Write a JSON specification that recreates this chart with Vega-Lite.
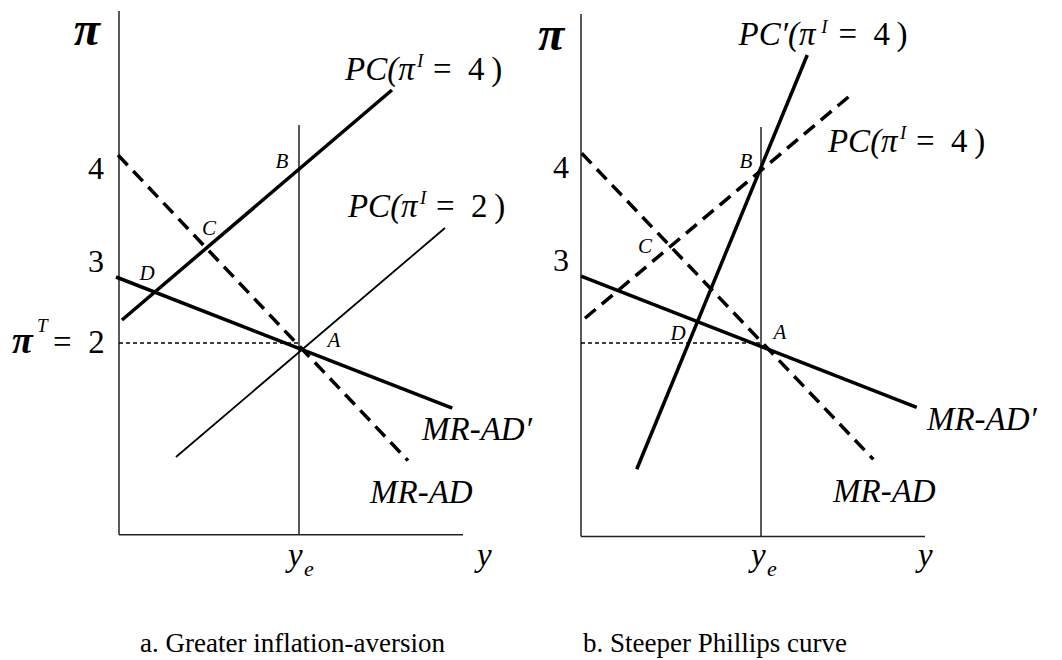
{
  "$schema": "https://vega.github.io/schema/vega-lite/v6.json",
  "padding": 0,
  "spacing": 0,
  "bounds": "flush",
  "background": "white",
  "config": {"view": {"stroke": null}},
  "resolve": {"scale": {"x": "independent", "y": "independent"}},
  "datasets": {
    "segs": [
      {"panel": "a", "kind": "axis", "x": -2.0, "y": -0.18, "x2": -2.0, "y2": 5.773},
      {"panel": "a", "kind": "axis", "x": -2.0, "y": -0.18, "x2": 1.822, "y2": -0.18},
      {"panel": "a", "kind": "axis", "x": 0, "y": -0.18, "x2": 0, "y2": 4.477},
      {"panel": "a", "kind": "dot", "x": -2.0, "y": 2.0, "x2": 0, "y2": 2.0},
      {"panel": "a", "kind": "thick", "x": -1.967, "y": 2.261, "x2": 1.033, "y2": 4.875},
      {"panel": "a", "kind": "thin", "x": -1.367, "y": 0.705, "x2": 1.622, "y2": 3.307},
      {"panel": "a", "kind": "dash", "x": -2.011, "y": 4.136, "x2": 1.211, "y2": 0.663},
      {"panel": "a", "kind": "thick", "x": -2.033, "y": 2.75, "x2": 1.703, "y2": 1.261},
      {"panel": "b", "kind": "axis", "x": -2.0, "y": -0.2, "x2": -2.0, "y2": 5.739},
      {"panel": "b", "kind": "axis", "x": -2.0, "y": -0.2, "x2": 1.822, "y2": -0.2},
      {"panel": "b", "kind": "axis", "x": 0, "y": -0.2, "x2": 0, "y2": 4.455},
      {"panel": "b", "kind": "dot", "x": -2.0, "y": 2.0, "x2": 0, "y2": 2.0},
      {"panel": "b", "kind": "thick", "x": -1.381, "y": 0.565, "x2": 0.514, "y2": 5.273},
      {"panel": "b", "kind": "dash", "x": -1.956, "y": 2.281, "x2": 1.033, "y2": 4.849},
      {"panel": "b", "kind": "dash", "x": -1.992, "y": 4.156, "x2": 1.248, "y2": 0.678},
      {"panel": "b", "kind": "thick", "x": -2.0, "y": 2.761, "x2": 1.73, "y2": 1.269}
    ],
    "texts": [
      {"panel": "a", "role": "greek", "x": -2.356, "y": 5.545, "label": "π"},
      {"panel": "a", "role": "tick", "x": -2.256, "y": 3.977, "label": "4"},
      {"panel": "a", "role": "tick", "x": -2.256, "y": 2.92, "label": "3"},
      {"panel": "a", "role": "pileft", "x": -3.19, "y": 1.886, "label": "π"},
      {"panel": "a", "role": "sup", "x": -2.911, "y": 2.125, "label": "T"},
      {"panel": "a", "role": "up", "x": -2.733, "y": 1.886, "label": "=\u20022"},
      {"panel": "a", "role": "pt", "x": -0.189, "y": 4.057, "label": "B"},
      {"panel": "a", "role": "pt", "x": -1.0, "y": 3.295, "label": "C"},
      {"panel": "a", "role": "pt", "x": -1.689, "y": 2.784, "label": "D"},
      {"panel": "a", "role": "pt", "x": 0.389, "y": 2.023, "label": "A"},
      {"panel": "a", "role": "lab", "x": 0.511, "y": 4.989, "label": "PC(π"},
      {"panel": "a", "role": "sup", "x": 1.311, "y": 5.136, "label": "I"},
      {"panel": "a", "role": "up", "x": 1.489, "y": 4.989, "label": "=\u20024\u2009)"},
      {"panel": "a", "role": "lab", "x": 0.544, "y": 3.432, "label": "PC(π"},
      {"panel": "a", "role": "sup", "x": 1.344, "y": 3.58, "label": "I"},
      {"panel": "a", "role": "up", "x": 1.522, "y": 3.432, "label": "=\u20022\u2009)"},
      {"panel": "a", "role": "lab", "x": 1.367, "y": 0.898, "label": "MR-AD′"},
      {"panel": "a", "role": "lab", "x": 0.789, "y": 0.182, "label": "MR-AD"},
      {"panel": "a", "role": "lab", "x": -0.122, "y": -0.534, "label": "y"},
      {"panel": "a", "role": "sub", "x": 0.056, "y": -0.648, "label": "e"},
      {"panel": "a", "role": "lab", "x": 1.978, "y": -0.534, "label": "y"},
      {"panel": "a", "role": "cap", "x": -1.767, "y": -1.511, "label": "a. Greater inflation-aversion"},
      {"panel": "b", "role": "greek", "x": -2.333, "y": 5.489, "label": "π"},
      {"panel": "b", "role": "tick", "x": -2.222, "y": 3.989, "label": "4"},
      {"panel": "b", "role": "tick", "x": -2.222, "y": 2.932, "label": "3"},
      {"panel": "b", "role": "pt", "x": -0.167, "y": 4.057, "label": "B"},
      {"panel": "b", "role": "pt", "x": -1.289, "y": 3.091, "label": "C"},
      {"panel": "b", "role": "pt", "x": -0.922, "y": 2.102, "label": "D"},
      {"panel": "b", "role": "pt", "x": 0.211, "y": 2.114, "label": "A"},
      {"panel": "b", "role": "lab", "x": -0.25, "y": 5.386, "label": "PC′(π"},
      {"panel": "b", "role": "sup", "x": 0.67, "y": 5.523, "label": "I"},
      {"panel": "b", "role": "up", "x": 0.86, "y": 5.386, "label": "=\u20024\u2009)"},
      {"panel": "b", "role": "lab", "x": 0.744, "y": 4.17, "label": "PC(π"},
      {"panel": "b", "role": "sup", "x": 1.544, "y": 4.318, "label": "I"},
      {"panel": "b", "role": "up", "x": 1.722, "y": 4.17, "label": "=\u20024\u2009)"},
      {"panel": "b", "role": "lab", "x": 1.844, "y": 1.011, "label": "MR-AD′"},
      {"panel": "b", "role": "lab", "x": 0.8, "y": 0.193, "label": "MR-AD"},
      {"panel": "b", "role": "lab", "x": -0.111, "y": -0.534, "label": "y"},
      {"panel": "b", "role": "sub", "x": 0.067, "y": -0.648, "label": "e"},
      {"panel": "b", "role": "lab", "x": 1.744, "y": -0.534, "label": "y"},
      {"panel": "b", "role": "cap", "x": -1.978, "y": -1.511, "label": "b. Steeper Phillips curve"}
    ]
  },
  "hconcat": [
    {
      "width": 531,
      "height": 660,
      "encoding": {
        "x": {"field": "x", "type": "quantitative", "scale": {"domain": [-3.3222, 2.5778], "nice": false, "zero": false}, "axis": null},
        "y": {"field": "y", "type": "quantitative", "scale": {"domain": [-1.6023, 5.8977], "nice": false, "zero": false}, "axis": null}
      },
      "layer": [
        {"data": {"name": "segs"}, "transform": [{"filter": "datum.panel === 'a' && datum.kind === 'axis'"}], "mark": {"type": "rule", "color": "#222222", "strokeWidth": 1.5}, "encoding": {"x2": {"field": "x2"}, "y2": {"field": "y2"}}},
        {"data": {"name": "segs"}, "transform": [{"filter": "datum.panel === 'a' && datum.kind === 'dot'"}], "mark": {"type": "rule", "color": "#000000", "strokeWidth": 1.6, "strokeDash": [4, 3]}, "encoding": {"x2": {"field": "x2"}, "y2": {"field": "y2"}}},
        {"data": {"name": "segs"}, "transform": [{"filter": "datum.panel === 'a' && datum.kind === 'thin'"}], "mark": {"type": "rule", "color": "#000000", "strokeWidth": 1.8}, "encoding": {"x2": {"field": "x2"}, "y2": {"field": "y2"}}},
        {"data": {"name": "segs"}, "transform": [{"filter": "datum.panel === 'a' && datum.kind === 'thick'"}], "mark": {"type": "rule", "color": "#000000", "strokeWidth": 3.5}, "encoding": {"x2": {"field": "x2"}, "y2": {"field": "y2"}}},
        {"data": {"name": "segs"}, "transform": [{"filter": "datum.panel === 'a' && datum.kind === 'dash'"}], "mark": {"type": "rule", "color": "#000000", "strokeWidth": 3.5, "strokeDash": [14, 8]}, "encoding": {"x2": {"field": "x2"}, "y2": {"field": "y2"}}},
        {"data": {"name": "texts"}, "transform": [{"filter": "datum.panel === 'a' && datum.role === 'greek'"}], "mark": {"type": "text", "font": "Liberation Serif", "fontStyle": "italic", "fontWeight": "bold", "fontSize": 48, "align": "center", "baseline": "middle", "fill": "#000000"}, "encoding": {"text": {"field": "label"}}},
        {"data": {"name": "texts"}, "transform": [{"filter": "datum.panel === 'a' && datum.role === 'pileft'"}], "mark": {"type": "text", "font": "Liberation Serif", "fontStyle": "italic", "fontWeight": "bold", "fontSize": 38, "align": "left", "baseline": "alphabetic", "fill": "#000000"}, "encoding": {"text": {"field": "label"}}},
        {"data": {"name": "texts"}, "transform": [{"filter": "datum.panel === 'a' && datum.role === 'tick'"}], "mark": {"type": "text", "font": "Liberation Serif", "fontSize": 32, "align": "center", "baseline": "middle", "fill": "#000000"}, "encoding": {"text": {"field": "label"}}},
        {"data": {"name": "texts"}, "transform": [{"filter": "datum.panel === 'a' && datum.role === 'pt'"}], "mark": {"type": "text", "font": "Liberation Serif", "fontStyle": "italic", "fontSize": 21, "align": "center", "baseline": "middle", "fill": "#000000"}, "encoding": {"text": {"field": "label"}}},
        {"data": {"name": "texts"}, "transform": [{"filter": "datum.panel === 'a' && datum.role === 'lab'"}], "mark": {"type": "text", "font": "Liberation Serif", "fontStyle": "italic", "fontSize": 33, "align": "left", "baseline": "alphabetic", "fill": "#000000"}, "encoding": {"text": {"field": "label"}}},
        {"data": {"name": "texts"}, "transform": [{"filter": "datum.panel === 'a' && datum.role === 'up'"}], "mark": {"type": "text", "font": "Liberation Serif", "fontSize": 33, "align": "left", "baseline": "alphabetic", "fill": "#000000"}, "encoding": {"text": {"field": "label"}}},
        {"data": {"name": "texts"}, "transform": [{"filter": "datum.panel === 'a' && datum.role === 'sup'"}], "mark": {"type": "text", "font": "Liberation Serif", "fontStyle": "italic", "fontSize": 19, "align": "left", "baseline": "alphabetic", "fill": "#000000"}, "encoding": {"text": {"field": "label"}}},
        {"data": {"name": "texts"}, "transform": [{"filter": "datum.panel === 'a' && datum.role === 'sub'"}], "mark": {"type": "text", "font": "Liberation Serif", "fontStyle": "italic", "fontSize": 22, "align": "left", "baseline": "alphabetic", "fill": "#000000"}, "encoding": {"text": {"field": "label"}}},
        {"data": {"name": "texts"}, "transform": [{"filter": "datum.panel === 'a' && datum.role === 'cap'"}], "mark": {"type": "text", "font": "Liberation Serif", "fontSize": 27, "align": "left", "baseline": "alphabetic", "fill": "#000000"}, "encoding": {"text": {"field": "label"}}}
      ]
    },
    {
      "width": 531,
      "height": 660,
      "encoding": {
        "x": {"field": "x", "type": "quantitative", "scale": {"domain": [-2.5556, 3.3444], "nice": false, "zero": false}, "axis": null},
        "y": {"field": "y", "type": "quantitative", "scale": {"domain": [-1.6023, 5.8977], "nice": false, "zero": false}, "axis": null}
      },
      "layer": [
        {"data": {"name": "segs"}, "transform": [{"filter": "datum.panel === 'b' && datum.kind === 'axis'"}], "mark": {"type": "rule", "color": "#222222", "strokeWidth": 1.5}, "encoding": {"x2": {"field": "x2"}, "y2": {"field": "y2"}}},
        {"data": {"name": "segs"}, "transform": [{"filter": "datum.panel === 'b' && datum.kind === 'dot'"}], "mark": {"type": "rule", "color": "#000000", "strokeWidth": 1.6, "strokeDash": [4, 3]}, "encoding": {"x2": {"field": "x2"}, "y2": {"field": "y2"}}},
        {"data": {"name": "segs"}, "transform": [{"filter": "datum.panel === 'b' && datum.kind === 'thick'"}], "mark": {"type": "rule", "color": "#000000", "strokeWidth": 3.5}, "encoding": {"x2": {"field": "x2"}, "y2": {"field": "y2"}}},
        {"data": {"name": "segs"}, "transform": [{"filter": "datum.panel === 'b' && datum.kind === 'dash'"}], "mark": {"type": "rule", "color": "#000000", "strokeWidth": 3.5, "strokeDash": [14, 8]}, "encoding": {"x2": {"field": "x2"}, "y2": {"field": "y2"}}},
        {"data": {"name": "texts"}, "transform": [{"filter": "datum.panel === 'b' && datum.role === 'greek'"}], "mark": {"type": "text", "font": "Liberation Serif", "fontStyle": "italic", "fontWeight": "bold", "fontSize": 48, "align": "center", "baseline": "middle", "fill": "#000000"}, "encoding": {"text": {"field": "label"}}},
        {"data": {"name": "texts"}, "transform": [{"filter": "datum.panel === 'b' && datum.role === 'tick'"}], "mark": {"type": "text", "font": "Liberation Serif", "fontSize": 32, "align": "center", "baseline": "middle", "fill": "#000000"}, "encoding": {"text": {"field": "label"}}},
        {"data": {"name": "texts"}, "transform": [{"filter": "datum.panel === 'b' && datum.role === 'pt'"}], "mark": {"type": "text", "font": "Liberation Serif", "fontStyle": "italic", "fontSize": 21, "align": "center", "baseline": "middle", "fill": "#000000"}, "encoding": {"text": {"field": "label"}}},
        {"data": {"name": "texts"}, "transform": [{"filter": "datum.panel === 'b' && datum.role === 'lab'"}], "mark": {"type": "text", "font": "Liberation Serif", "fontStyle": "italic", "fontSize": 33, "align": "left", "baseline": "alphabetic", "fill": "#000000"}, "encoding": {"text": {"field": "label"}}},
        {"data": {"name": "texts"}, "transform": [{"filter": "datum.panel === 'b' && datum.role === 'up'"}], "mark": {"type": "text", "font": "Liberation Serif", "fontSize": 33, "align": "left", "baseline": "alphabetic", "fill": "#000000"}, "encoding": {"text": {"field": "label"}}},
        {"data": {"name": "texts"}, "transform": [{"filter": "datum.panel === 'b' && datum.role === 'sup'"}], "mark": {"type": "text", "font": "Liberation Serif", "fontStyle": "italic", "fontSize": 19, "align": "left", "baseline": "alphabetic", "fill": "#000000"}, "encoding": {"text": {"field": "label"}}},
        {"data": {"name": "texts"}, "transform": [{"filter": "datum.panel === 'b' && datum.role === 'sub'"}], "mark": {"type": "text", "font": "Liberation Serif", "fontStyle": "italic", "fontSize": 22, "align": "left", "baseline": "alphabetic", "fill": "#000000"}, "encoding": {"text": {"field": "label"}}},
        {"data": {"name": "texts"}, "transform": [{"filter": "datum.panel === 'b' && datum.role === 'cap'"}], "mark": {"type": "text", "font": "Liberation Serif", "fontSize": 27, "align": "left", "baseline": "alphabetic", "fill": "#000000"}, "encoding": {"text": {"field": "label"}}}
      ]
    }
  ]
}
